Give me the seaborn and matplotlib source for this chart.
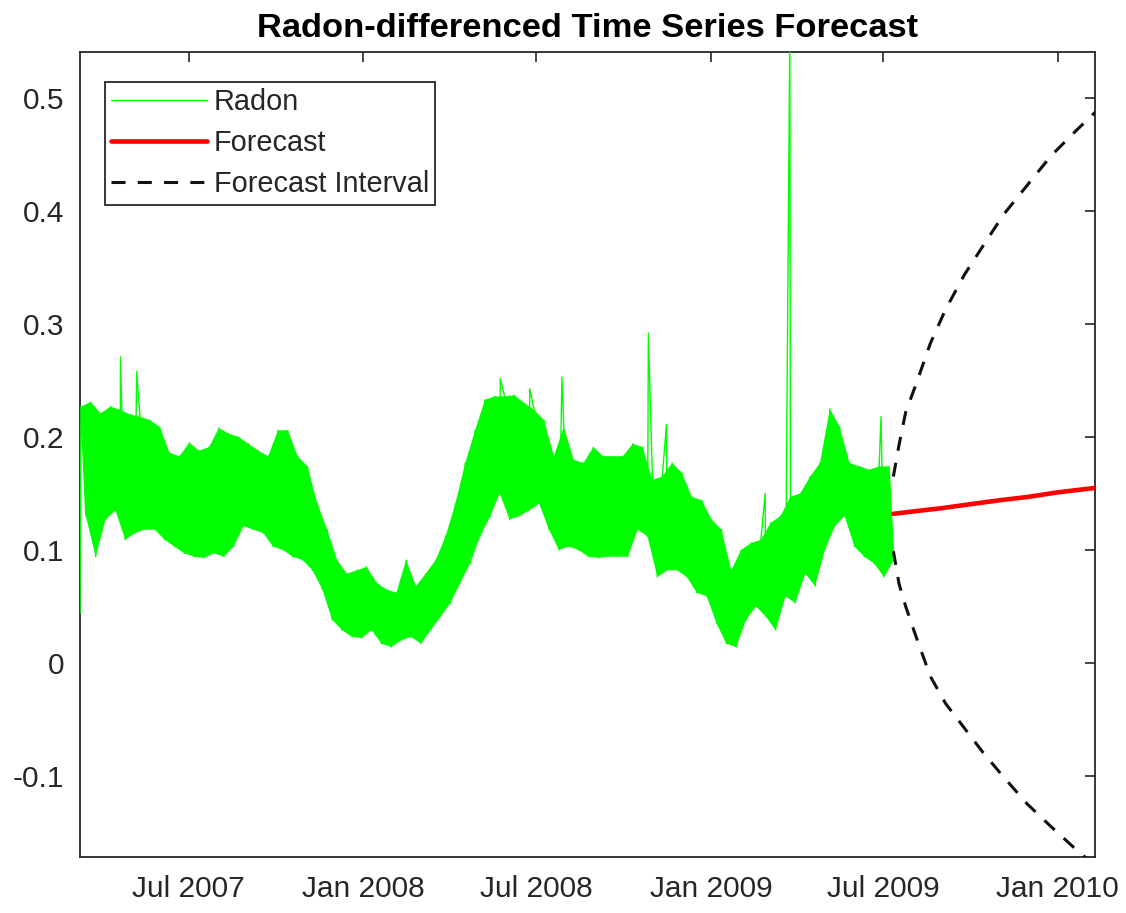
import numpy as np
import pandas as pd
import matplotlib
matplotlib.use("Agg")
import matplotlib.pyplot as plt
import matplotlib.dates as mdates
from matplotlib.ticker import FuncFormatter
import seaborn as sns

# Radon-differenced series: upper / lower envelope per ~10-day block
radon_start, radon_end = "2007-03-12", "2009-07-10"
radon_hi = [
    0.227, 0.231, 0.221, 0.227, 0.224, 0.220, 0.218, 0.215, 0.209, 0.186, 0.183,
    0.195, 0.188, 0.191, 0.208, 0.203, 0.200, 0.194, 0.188, 0.183, 0.206,
    0.206, 0.183, 0.174, 0.141, 0.118, 0.091, 0.079, 0.082, 0.085, 0.071, 0.065,
    0.062, 0.091, 0.068, 0.079, 0.091, 0.112, 0.141, 0.177, 0.206, 0.233,
    0.236, 0.236, 0.237, 0.230, 0.224, 0.215, 0.183, 0.209, 0.180, 0.177, 0.191,
    0.183, 0.183, 0.183, 0.194, 0.191, 0.162, 0.165, 0.177, 0.168, 0.147,
    0.144, 0.127, 0.118, 0.082, 0.100, 0.106, 0.109, 0.124, 0.130, 0.147,
    0.150, 0.165, 0.177, 0.225, 0.209, 0.177, 0.174, 0.171, 0.174, 0.174,
]
radon_lo = [
    0.130, 0.094, 0.127, 0.135, 0.109, 0.115, 0.118, 0.118, 0.109, 0.103, 0.097,
    0.094, 0.093, 0.097, 0.094, 0.103, 0.121, 0.118, 0.115, 0.103, 0.100,
    0.094, 0.091, 0.082, 0.065, 0.038, 0.029, 0.023, 0.022, 0.029, 0.017, 0.014,
    0.020, 0.023, 0.017, 0.029, 0.041, 0.053, 0.071, 0.088, 0.112, 0.129,
    0.150, 0.127, 0.130, 0.135, 0.141, 0.118, 0.100, 0.103, 0.100, 0.094, 0.093,
    0.094, 0.094, 0.094, 0.118, 0.112, 0.076, 0.082, 0.082, 0.076, 0.062,
    0.059, 0.035, 0.017, 0.014, 0.038, 0.050, 0.041, 0.029, 0.059, 0.053,
    0.079, 0.068, 0.100, 0.121, 0.130, 0.103, 0.094, 0.088, 0.076, 0.091,
]
# Isolated spikes in the series
spike_dates = ["2007-03-08 12:00", "2007-04-20 00:00", "2007-05-07 00:00",
               "2008-05-24 00:00", "2008-06-24 00:00", "2008-07-28 00:00",
               "2008-10-27 00:00", "2008-11-15 00:00", "2009-02-27 00:00",
               "2009-03-25 00:00", "2009-06-29 00:00"]
spike_values = [0.044, 0.271, 0.258, 0.252, 0.243, 0.253, 0.292, 0.211,
                0.150, 0.560, 0.218]

# Forecast and its interval
forecast_dates = ["2009-07-12", "2009-08-01", "2009-09-01", "2009-10-01",
                  "2009-11-01", "2009-12-01", "2010-01-01", "2010-02-10"]
forecast_values = [0.132, 0.134, 0.137, 0.1405, 0.144, 0.147, 0.151, 0.155]

interval_dates = ["2009-07-12", "2009-07-18", "2009-07-25", "2009-08-05",
                  "2009-08-20", "2009-09-05", "2009-09-25", "2009-10-15",
                  "2009-11-05", "2009-11-30", "2009-12-25", "2010-01-20",
                  "2010-02-10"]
interval_upper = [0.165, 0.193, 0.222, 0.247, 0.283, 0.313, 0.344, 0.370,
                  0.397, 0.423, 0.449, 0.471, 0.488]
interval_lower = [0.099, 0.070, 0.050, 0.023, -0.012, -0.036, -0.058, -0.080,
                  -0.101, -0.125, -0.145, -0.165, -0.180]

ytick_values = [-0.1, 0.0, 0.1, 0.2, 0.3, 0.4, 0.5]

sns.set_theme(style="white")
plt.rcParams["font.family"] = ["Liberation Sans", "DejaVu Sans"]

ink = "#262626"
green = "#00ff00"

fig = plt.figure(figsize=(11.26, 9.13), dpi=100)
ax = fig.add_axes([0.071, 0.0613, 0.9015, 0.8817])

# Radon trace: alternate upper and lower values within each block
bin_dates = pd.date_range(radon_start, radon_end, periods=len(radon_hi))
step = bin_dates[1] - bin_dates[0]
hi_dates = bin_dates - step / 4
lo_dates = bin_dates + step / 4
radon_df = pd.concat([
    pd.DataFrame({"date": hi_dates, "value": radon_hi}),
    pd.DataFrame({"date": lo_dates, "value": radon_lo}),
    pd.DataFrame({"date": pd.to_datetime(spike_dates, format="%Y-%m-%d %H:%M"),
                  "value": spike_values}),
]).sort_values("date").reset_index(drop=True)

# solid body between the two envelopes
poly_x = np.concatenate([mdates.date2num(hi_dates),
                         mdates.date2num(lo_dates)[::-1]])
poly_y = np.concatenate([radon_hi, radon_lo[::-1]])
ax.fill(poly_x, poly_y, color=green, lw=0, zorder=2)
sns.lineplot(data=radon_df, x="date", y="value", color=green, lw=1.0,
             estimator=None, sort=True, ax=ax, label="Radon", zorder=3)

fc_df = pd.DataFrame({"date": pd.to_datetime(forecast_dates),
                      "value": forecast_values})
sns.lineplot(data=fc_df, x="date", y="value", color="#ff0000", lw=3.3,
             estimator=None, ax=ax, label="Forecast", zorder=4)

iv_dates = pd.to_datetime(interval_dates)
dash = (0, (4.6, 4.0))
sns.lineplot(x=iv_dates, y=interval_upper, color="#111111", lw=2.2,
             linestyle=dash, estimator=None, ax=ax,
             label="Forecast Interval", zorder=4)
sns.lineplot(x=iv_dates, y=interval_lower, color="#111111", lw=2.2,
             linestyle=dash, estimator=None, ax=ax, zorder=4)

ax.set_xlim(pd.Timestamp("2007-03-08 09:00"), pd.Timestamp("2010-02-09 10:00"))
ax.set_ylim(-0.172, 0.541)
ax.set_xlabel("")
ax.set_ylabel("")

ax.xaxis.set_major_locator(mdates.MonthLocator(bymonth=[1, 7]))
ax.xaxis.set_major_formatter(mdates.DateFormatter("%b %Y"))
ax.set_yticks(ytick_values)
ax.yaxis.set_major_formatter(FuncFormatter(lambda v, _: f"{v:g}"))

ax.tick_params(axis="both", direction="in", top=True, right=True,
               length=7, width=1.2, colors=ink, labelsize=21.5)
ax.tick_params(axis="x", pad=13)
ax.tick_params(axis="y", pad=11.5)
for sp in ax.spines.values():
    sp.set_color(ink)
    sp.set_linewidth(1.3)

ax.set_title("Radon-differenced Time Series Forecast", fontsize=24.8,
             fontweight="bold", color="black", pad=11)

handles, labels = ax.get_legend_handles_labels()
leg = ax.legend(handles, labels, loc="upper left",
                bbox_to_anchor=(0.0246, 0.963), borderaxespad=0,
                fontsize=20.8, frameon=True, fancybox=False, framealpha=1,
                edgecolor=ink, handlelength=3.3, handletextpad=0.25,
                borderpad=0.22, labelspacing=0.45)
leg.get_frame().set_linewidth(1.3)

fig.savefig("out.png", dpi=100)
